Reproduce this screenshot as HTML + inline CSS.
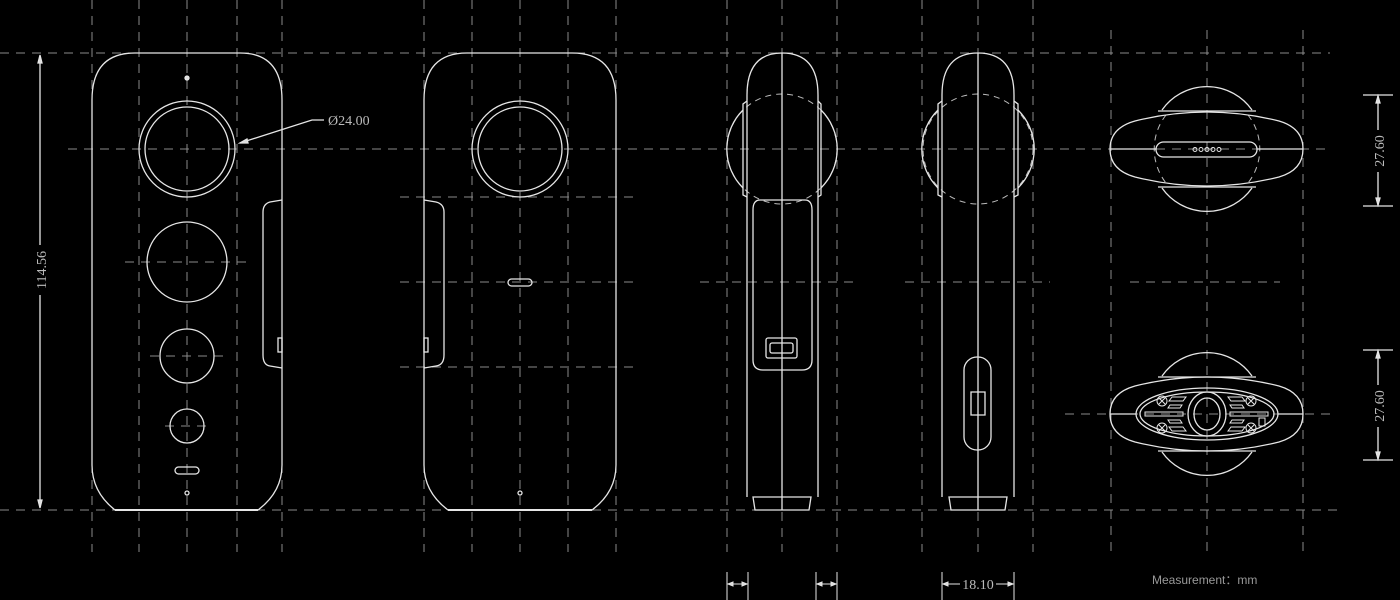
<!DOCTYPE html>
<html><head><meta charset="utf-8"><style>
html,body{margin:0;padding:0;background:#000;}
svg{display:block;}
text{font-family:"Liberation Serif",serif;fill:#bbb;}
</style></head><body>
<svg width="1400" height="600" viewBox="0 0 1400 600" xmlns="http://www.w3.org/2000/svg">
<rect width="1400" height="600" fill="#000"/>
<g stroke="#8a8a8a" stroke-width="1" stroke-dasharray="9,7" fill="none">
  <line x1="0" y1="53" x2="1330" y2="53"/>
  <line x1="68" y1="149" x2="1330" y2="149"/>
  <line x1="0" y1="510" x2="1340" y2="510"/>
  <line x1="400" y1="197" x2="640" y2="197"/>
  <line x1="400" y1="282" x2="640" y2="282"/>
  <line x1="400" y1="367" x2="640" y2="367"/>
  <line x1="125" y1="262" x2="250" y2="262"/>
  <line x1="150" y1="356" x2="225" y2="356"/>
  <line x1="165" y1="426" x2="212" y2="426"/>
  <line x1="700" y1="282" x2="860" y2="282"/>
  <line x1="905" y1="282" x2="1050" y2="282"/>
  <line x1="1130" y1="282" x2="1280" y2="282"/>
  <line x1="1065" y1="414" x2="1335" y2="414"/>
  <line x1="92" y1="0" x2="92" y2="552"/>
  <line x1="139" y1="0" x2="139" y2="552"/>
  <line x1="187" y1="0" x2="187" y2="552"/>
  <line x1="237" y1="0" x2="237" y2="552"/>
  <line x1="282" y1="0" x2="282" y2="552"/>
  <line x1="424" y1="0" x2="424" y2="552"/>
  <line x1="472" y1="0" x2="472" y2="552"/>
  <line x1="520" y1="0" x2="520" y2="552"/>
  <line x1="568" y1="0" x2="568" y2="552"/>
  <line x1="616" y1="0" x2="616" y2="552"/>
  <line x1="727" y1="0" x2="727" y2="552"/>
  <line x1="782" y1="0" x2="782" y2="552"/>
  <line x1="837" y1="0" x2="837" y2="552"/>
  <line x1="922" y1="0" x2="922" y2="552"/>
  <line x1="978" y1="0" x2="978" y2="552"/>
  <line x1="1033" y1="0" x2="1033" y2="552"/>
  <line x1="1111" y1="30" x2="1111" y2="552"/>
  <line x1="1207" y1="30" x2="1207" y2="552"/>
  <line x1="1303" y1="30" x2="1303" y2="552"/>
</g>
<g stroke="#bbb" stroke-width="1" stroke-dasharray="6,5" fill="none">
  <circle cx="782" cy="149" r="55"/>
  <circle cx="978" cy="149" r="55"/>
  <path d="M1166,115 A55,55 0 0,0 1166,183 M1248,115 A55,55 0 0,1 1248,183"/>
</g>

<g stroke="#e6e6e6" stroke-width="1.3" fill="none">
  <!-- front view -->
  <path d="M92,100 Q92,53 135,53 L240,53 Q282,53 282,100 L282,465 Q282,492 258,510 L115,510 Q92,492 92,465 Z"/>
  <line x1="115" y1="510" x2="258" y2="510" stroke-width="2"/>
  <circle cx="187" cy="149" r="48"/>
  <circle cx="187" cy="149" r="42"/>
  <circle cx="187" cy="262" r="40"/>
  <circle cx="187" cy="356" r="27"/>
  <circle cx="187" cy="426" r="17"/>
  <rect x="175" y="467" width="24" height="7" rx="3.5"/>
  <circle cx="187" cy="78" r="2" fill="#ddd"/>
  <circle cx="187" cy="493" r="2"/>
  <path d="M282,200 L270,202 Q263,204 263,212 L263,355 Q263,365 270,366 L282,368"/>
  <rect x="278" y="338" width="4" height="14"/>
  <line x1="40" y1="56" x2="40" y2="245"/>
  <line x1="40" y1="295" x2="40" y2="507"/>
  <path d="M40,55 l-2,8 h4 Z M40,508 l-2,-8 h4 Z" fill="#ddd"/>
  <polyline points="240,143 312,120 324,120"/>
  <path d="M240,143 l7,-4 l1,4 Z" fill="#ddd"/>

  <!-- back view -->
  <path d="M424,100 Q424,53 467,53 L572,53 Q616,53 616,100 L616,465 Q616,492 592,510 L448,510 Q424,492 424,465 Z"/>
  <line x1="448" y1="510" x2="592" y2="510" stroke-width="2"/>
  <circle cx="520" cy="149" r="48"/>
  <circle cx="520" cy="149" r="42"/>
  <rect x="508" y="279" width="24" height="7" rx="3.5"/>
  <circle cx="520" cy="493" r="2"/>
  <path d="M424,200 L436,202 Q444,204 444,212 L444,355 Q444,365 436,366 L424,368"/>
  <rect x="424" y="338" width="4" height="14"/>

  <!-- side view 1 -->
  <path d="M747,497 L747,95 Q747,53 782,53 Q818,53 818,95 L818,497"/>
  <line x1="782" y1="53" x2="782" y2="510"/>
  <path d="M753,497 L811,497 L809,510 L755,510 Z"/>
  <path d="M743,110 A55,55 0 0,0 743,188"/>
  <path d="M821,110 A55,55 0 0,1 821,188"/>
  <path d="M747,101 L743,104 L743,195 L747,197"/>
  <path d="M818,101 L821,104 L821,195 L818,197"/>
  <path d="M760,200 Q753,200 753,210 L753,360 Q753,370 763,370 L802,370 Q812,370 812,360 L812,210 Q812,200 805,200 Z"/>
  <rect x="766" y="338" width="31" height="20" rx="2"/>
  <rect x="770" y="343" width="23" height="10" rx="2"/>

  <!-- side view 2 -->
  <path d="M942,497 L942,95 Q942,53 978,53 Q1014,53 1014,95 L1014,497"/>
  <line x1="978" y1="53" x2="978" y2="510"/>
  <path d="M949,497 L1007,497 L1005,510 L951,510 Z"/>
  <path d="M938,110 A55,55 0 0,0 938,188"/>
  <path d="M1018,110 A55,55 0 0,1 1018,188"/>
  <path d="M942,101 L938,104 L938,195 L942,197"/>
  <path d="M1014,101 L1018,104 L1018,195 L1014,197"/>
  <rect x="964" y="357" width="27" height="93" rx="13"/>
  <path d="M971,392 L985,392 L985,415 L971,415 Z"/>

  <!-- top view -->
  <path d="M1135,121 Q1207,103 1279,121 Q1303,128 1303,149 Q1303,170 1279,177 Q1207,195 1135,177 Q1110,170 1110,149 Q1110,128 1135,121 Z"/>
  <path d="M1162,110 A55,55 0 0,1 1252,110"/>
  <path d="M1162,188 A55,55 0 0,0 1252,188"/>
  <line x1="1158" y1="111" x2="1256" y2="111"/>
  <line x1="1158" y1="187" x2="1256" y2="187"/>
  <line x1="1110" y1="149" x2="1156" y2="149"/>
  <line x1="1257" y1="149" x2="1303" y2="149"/>
  <rect x="1156" y="142" width="101" height="15" rx="7.5"/>
  <g stroke-width="1">
  <circle cx="1195" cy="149.5" r="2"/><circle cx="1201" cy="149.5" r="2"/><circle cx="1207" cy="149.5" r="2"/><circle cx="1213" cy="149.5" r="2"/><circle cx="1219" cy="149.5" r="2"/>
  </g>
  <!-- bottom view -->
  <path d="M1135,386 Q1207,368 1279,386 Q1303,393 1303,414 Q1303,435 1279,442 Q1207,460 1135,442 Q1110,435 1110,414 Q1110,393 1135,386 Z"/>
  <path d="M1162,376 A55,55 0 0,1 1252,376"/>
  <path d="M1162,452 A55,55 0 0,0 1252,452"/>
  <line x1="1158" y1="377" x2="1256" y2="377"/>
  <line x1="1158" y1="451" x2="1256" y2="451"/>
  <line x1="1110" y1="414" x2="1136" y2="414"/>
  <line x1="1278" y1="414" x2="1303" y2="414"/>
  <ellipse cx="1207" cy="414" rx="71" ry="26"/>
  <ellipse cx="1207" cy="414" rx="67" ry="22"/>
  <ellipse cx="1207" cy="414" rx="19" ry="22"/>
  <ellipse cx="1207" cy="414" rx="13" ry="16"/>
  <g stroke-width="1">
  <circle cx="1162" cy="401" r="5"/><circle cx="1251" cy="401" r="5"/>
  <circle cx="1162" cy="428" r="5"/><circle cx="1251" cy="428" r="5"/>
  <path d="M1159,398 l6,6 M1165,398 l-6,6 M1248,398 l6,6 M1254,398 l-6,6 M1159,425 l6,6 M1165,425 l-6,6 M1248,425 l6,6 M1254,425 l-6,6"/>
  <path d="M1172,397 h14 l-3,4 h-14 Z M1228,397 h14 l3,4 h-14 Z M1170,405 h12 l-2,3 h-12Z M1230,405 h12 l2,3 h-12Z"/>
  <path d="M1172,431 h14 l-3,-4 h-14 Z M1228,431 h14 l3,-4 h-14 Z M1170,423 h12 l-2,-3 h-12Z M1230,423 h12 l2,-3 h-12Z"/>
  <rect x="1145" y="412" width="38" height="4"/><rect x="1230" y="412" width="38" height="4"/>
  <rect x="1259" y="418" width="6" height="8"/>
  </g>
  <!-- 27.60 dims -->
  <line x1="1363" y1="95" x2="1393" y2="95"/>
  <line x1="1363" y1="206" x2="1393" y2="206"/>
  <line x1="1378" y1="96" x2="1378" y2="130"/>
  <line x1="1378" y1="172" x2="1378" y2="205"/>
  <line x1="1363" y1="350" x2="1393" y2="350"/>
  <line x1="1363" y1="460" x2="1393" y2="460"/>
  <line x1="1378" y1="351" x2="1378" y2="385"/>
  <line x1="1378" y1="427" x2="1378" y2="459"/>
  <path d="M1378,96 l-2,7 h4Z M1378,205 l-2,-7 h4Z M1378,351 l-2,7 h4Z M1378,459 l-2,-7 h4Z" fill="#ddd"/>

  <g stroke-width="1">
  <line x1="727" y1="572" x2="727" y2="600"/><line x1="748" y1="572" x2="748" y2="600"/>
  <line x1="816" y1="572" x2="816" y2="600"/><line x1="837" y1="572" x2="837" y2="600"/>
  <line x1="942" y1="572" x2="942" y2="600"/><line x1="1014" y1="572" x2="1014" y2="600"/>
  <line x1="728" y1="584" x2="747" y2="584"/><line x1="817" y1="584" x2="836" y2="584"/>
  <line x1="943" y1="584" x2="960" y2="584"/><line x1="996" y1="584" x2="1013" y2="584"/>
  <path d="M728,584 l5,-2 v4Z M747,584 l-5,-2 v4Z M817,584 l5,-2 v4Z M836,584 l-5,-2 v4Z M943,584 l5,-2 v4Z M1013,584 l-5,-2 v4Z" fill="#ddd"/>
  </g>
</g>

<text x="328" y="125" font-size="14">Ø24.00</text>
<text transform="translate(46,270) rotate(-90)" font-size="14" text-anchor="middle">114.56</text>
<text transform="translate(1384,151) rotate(-90)" font-size="14" text-anchor="middle">27.60</text>
<text transform="translate(1384,406) rotate(-90)" font-size="14" text-anchor="middle">27.60</text>
<text x="978" y="589" font-size="14" text-anchor="middle">18.10</text>
<text x="1152" y="584" font-size="12" style="font-family:'Liberation Sans','Noto Sans CJK SC',sans-serif;fill:#999">Measurement：mm</text>
</svg>
</body></html>
